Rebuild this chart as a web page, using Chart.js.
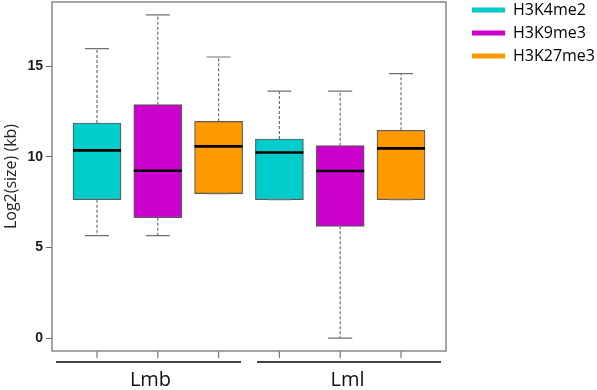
<!DOCTYPE html>
<html>
<head>
<meta charset="utf-8">
<script src="https://cdn.jsdelivr.net/npm/chart.js@4/dist/chart.umd.min.js"></script>
<style>
  body { margin: 0; background: #fff; }
  #wrap { width: 597px; height: 390px; }
</style>
</head>
<body>
<div id="wrap"><canvas id="boxChart"></canvas></div>
<script>
// data, one row per mark, columns = groups
var groups = ['Lmb', 'Lml'];
var series = ['H3K4me2', 'H3K9me3', 'H3K27me3'];
var lowerWhisker = [[5.65, 7.63], [5.65, 0.0], [7.97, 7.63]];
var q1 = [[7.63, 7.63], [6.64, 6.16], [7.97, 7.63]];
var median = [[10.35, 10.23], [9.23, 9.21], [10.57, 10.46]];
var q3 = [[11.86, 10.98], [12.87, 10.61], [11.95, 11.46]];
var upperWhisker = [[15.96, 13.62], [17.82, 13.62], [15.50, 14.58]];
var yTicks = [0, 5, 10, 15];

var colors = ['#00cccc', '#cc00cc', '#ff9900'];

// R style 4% axis expansion
var nBoxes = groups.length * series.length;
var xMin = 0.5 - 0.04 * nBoxes, xMax = nBoxes + 0.5 + 0.04 * nBoxes;
var allLow = Math.min.apply(null, [].concat.apply([], lowerWhisker));
var allHigh = Math.max.apply(null, [].concat.apply([], upperWhisker));
var yPad = 0.04 * (allHigh - allLow);
var groupSplit = series.length + 0.5;

function boxPos(si, gi) { return gi * series.length + si + 1; }

var datasets = series.map(function(name, si) {
    return {
        label: name,
        data: groups.map(function(g, gi) {
            return { x: boxPos(si, gi), y: [q1[si][gi], q3[si][gi]] };
        }),
        backgroundColor: colors[si],
        borderColor: '#5a5a5a',
        borderWidth: 1.2,
        borderSkipped: false,
        grouped: false,
        barThickness: 48
    };
});

var boxExtras = {
    id: 'boxExtras',
    beforeLayout: function(chart) {
        var lg = chart.legend;
        if (lg && !lg._fixed) {
            var fit = lg.fit;
            lg.fit = function() { fit.call(this); this.width = 151; };
            lg._fixed = true;
        }
    },
    afterLayout: function(chart) {
        chart.legend.left += 19;
        chart.legend.top = -5;
    },
    afterDatasetsDraw: function(chart) {
        var ctx = chart.ctx, ys = chart.scales.y, xs = chart.scales.x;
        var area = chart.chartArea;
        ctx.save();
        series.forEach(function(name, si) {
            chart.getDatasetMeta(si).data.forEach(function(bar, gi) {
                var x = bar.x, w = bar.width;
                var pHi = ys.getPixelForValue(upperWhisker[si][gi]);
                var pLo = ys.getPixelForValue(lowerWhisker[si][gi]);
                var pQ3 = ys.getPixelForValue(q3[si][gi]);
                var pQ1 = ys.getPixelForValue(q1[si][gi]);
                var pMed = ys.getPixelForValue(median[si][gi]);
                // dashed whiskers
                ctx.strokeStyle = '#707070';
                ctx.lineWidth = 1.2;
                ctx.setLineDash([3, 2]);
                ctx.beginPath();
                ctx.moveTo(x, pQ3); ctx.lineTo(x, pHi);
                ctx.moveTo(x, pQ1); ctx.lineTo(x, pLo);
                ctx.stroke();
                ctx.setLineDash([]);
                // caps
                ctx.beginPath();
                ctx.moveTo(x - w / 4, pHi); ctx.lineTo(x + w / 4, pHi);
                ctx.moveTo(x - w / 4, pLo); ctx.lineTo(x + w / 4, pLo);
                ctx.stroke();
                // median
                ctx.strokeStyle = '#000';
                ctx.lineWidth = 2.6;
                ctx.beginPath();
                ctx.moveTo(x - w / 2, pMed); ctx.lineTo(x + w / 2, pMed);
                ctx.stroke();
                // tick under the box
                ctx.strokeStyle = '#777';
                ctx.lineWidth = 1.2;
                ctx.beginPath();
                ctx.moveTo(x, area.bottom); ctx.lineTo(x, area.bottom + 7);
                ctx.stroke();
            });
        });
        // frame
        ctx.strokeStyle = '#888';
        ctx.lineWidth = 1.5;
        ctx.strokeRect(area.left, area.top, area.right - area.left, area.bottom - area.top);
        // group lines
        var mid = xs.getPixelForValue(groupSplit);
        var ly = area.bottom + 11;
        ctx.strokeStyle = '#444';
        ctx.lineWidth = 2.2;
        ctx.beginPath();
        ctx.moveTo(area.left + 4, ly); ctx.lineTo(mid - 8, ly);
        ctx.moveTo(mid + 8, ly); ctx.lineTo(area.right - 5, ly);
        ctx.stroke();
        ctx.restore();
    }
};

var ctx = document.getElementById('boxChart').getContext('2d');
var boxChart = new Chart(ctx, {
    type: 'bar',
    data: { datasets: datasets },
    options: {
        responsive: true,
        maintainAspectRatio: false,
        animation: false,
        layout: { padding: { top: 2, right: 0, bottom: 0, left: 0 } },
        scales: {
            x: {
                type: 'linear',
                min: xMin,
                max: xMax,
                offset: false,
                grid: { display: false, drawTicks: false },
                border: { display: false },
                afterBuildTicks: function(scale) {
                    scale.ticks = [
                        { value: (xMin + groupSplit) / 2 },
                        { value: (groupSplit + xMax) / 2 }
                    ];
                },
                afterFit: function(scale) {
                    scale.height = 39;
                    scale.paddingLeft = 0;
                    scale.paddingRight = 0;
                },
                ticks: {
                    autoSkip: false,
                    maxRotation: 0,
                    padding: 17,
                    color: '#111',
                    font: { family: 'Open Sans', size: 20 },
                    callback: function(v, i) { return groups[i]; }
                }
            },
            y: {
                min: allLow - yPad,
                max: allHigh + yPad,
                afterBuildTicks: function(scale) {
                    scale.ticks = yTicks.map(function(v) { return { value: v }; });
                },
                afterFit: function(scale) {
                    scale.width = 52;
                    scale.paddingTop = 0;
                    scale.paddingBottom = 0;
                },
                grid: { drawOnChartArea: false, drawTicks: true, tickLength: 6, color: '#666' },
                border: { display: false },
                ticks: {
                    padding: 3,
                    color: '#1a1a1a',
                    font: { family: 'Liberation Sans', size: 14, weight: 'bold' }
                },
                title: {
                    display: true,
                    text: 'Log2(size) (kb)',
                    color: '#222',
                    padding: { top: 2, bottom: 0 },
                    font: { family: 'Open Sans', size: 16 }
                }
            }
        },
        plugins: {
            legend: {
                position: 'right',
                align: 'start',
                labels: {
                    boxWidth: 33,
                    boxHeight: 5,
                    padding: 7,
                    color: '#222',
                    font: { family: 'Open Sans', size: 16 },
                    generateLabels: function(chart) {
                        return series.map(function(name, i) {
                            return {
                                text: name,
                                fillStyle: colors[i],
                                strokeStyle: colors[i],
                                lineWidth: 0,
                                hidden: false,
                                datasetIndex: i
                            };
                        });
                    }
                }
            },
            tooltip: { enabled: false }
        }
    },
    plugins: [boxExtras]
});
</script>
</body>
</html>
